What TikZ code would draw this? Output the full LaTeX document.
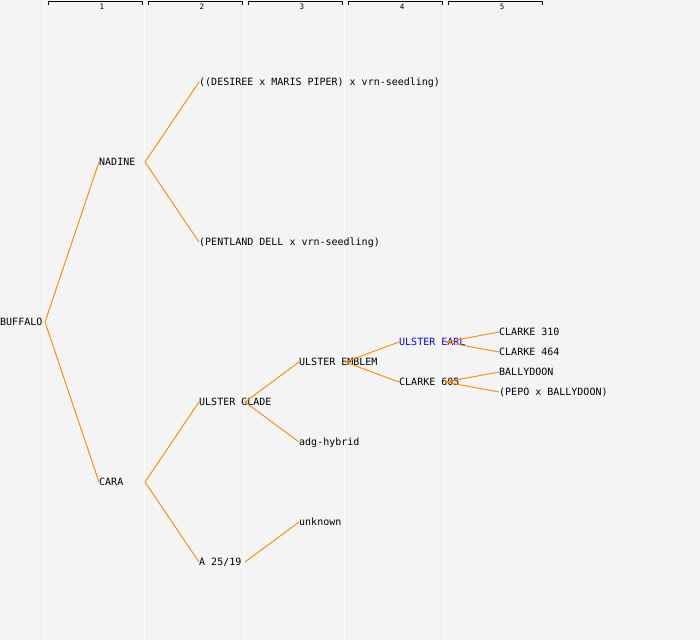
\documentclass[tikz,border=0pt]{standalone}
\usepackage{fontspec}
\setmonofont{DejaVu Sans Mono}
\usepackage{tikz}
\usetikzlibrary{positioning}
\usepackage{xcolor}
\definecolor{bgcol}{HTML}{F4F4F4}
\definecolor{linkorange}{HTML}{FF8800}

\begin{document}
\begin{tikzpicture}[x=1pt, y=-1pt,
    variety/.style={anchor=west, inner sep=0pt, text height=7.3pt, text depth=0pt,
                    font=\ttfamily\fontsize{10}{12}\selectfont},
    link/.style={draw=linkorange, line width=0.9pt},
    genline/.style={draw=white, line width=1.5pt},
    bracket/.style={draw=black, line width=0.9pt},
    genlabel/.style={inner sep=0pt, font=\ttfamily\fontsize{7.5}{7.5}\selectfont}]

    % background and generation columns
    \useasboundingbox[fill=bgcol] (0,0) rectangle (700,640);
    \draw[genline] (44.5,0) -- (44.5,640);
    \draw[genline] (144.5,0) -- (144.5,640);
    \draw[genline] (244.5,0) -- (244.5,640);
    \draw[genline] (344.5,0) -- (344.5,640);
    \draw[genline] (444.5,0) -- (444.5,640);

    % generation brackets
    \draw[bracket] (48.3,4.5) -- (48.3,1.5) -- (142.7,1.5) -- (142.7,4.5);
    \node[genlabel] (g1) at (102,6.5) {1};
    \draw[bracket] (148.3,4.5) -- (148.3,1.5) -- (242.7,1.5) -- (242.7,4.5);
    \node[genlabel] (g2) at (202,6.5) {2};
    \draw[bracket] (248.3,4.5) -- (248.3,1.5) -- (342.7,1.5) -- (342.7,4.5);
    \node[genlabel] (g3) at (302,6.5) {3};
    \draw[bracket] (348.3,4.5) -- (348.3,1.5) -- (442.7,1.5) -- (442.7,4.5);
    \node[genlabel] (g4) at (402,6.5) {4};
    \draw[bracket] (448.3,4.5) -- (448.3,1.5) -- (542.7,1.5) -- (542.7,4.5);
    \node[genlabel] (g5) at (502,6.5) {5};

    % generation 1
    \node[variety] (buffalo) at (0,322) {BUFFALO};
    \coordinate (jbuffalo) at (45,322);

    % generation 2
    \node[variety] (nadine) at (99,162) {NADINE};
    \coordinate (jnadine) at (145,162);
    \node[variety] (cara) at (99,482) {CARA};
    \coordinate (jcara) at (145,482);

    % generation 3
    \node[variety] (desiree) at (199,82) {((DESIREE x MARIS PIPER) x vrn-seedling)};
    \node[variety] (pentland) at (199,242) {(PENTLAND DELL x vrn-seedling)};
    \node[variety] (uglade) at (199,402) {ULSTER GLADE};
    \coordinate (juglade) at (245,402);
    \node[variety] (a2519) at (199,562) {A 25/19};
    \coordinate (ja2519) at (245,562);

    % generation 4
    \node[variety] (uemblem) at (299,362) {ULSTER EMBLEM};
    \coordinate (juemblem) at (345,362);
    \node[variety] (adg) at (299,442) {adg-hybrid};
    \node[variety] (unknown) at (299,522) {unknown};

    % generation 5
    \node[variety, text=blue] (uearl) at (399,342) {ULSTER EARL};
    \coordinate (juearl) at (445,342);
    \node[variety] (c605) at (399,382) {CLARKE 605};
    \coordinate (jc605) at (445,382);

    % generation 6
    \node[variety] (c310) at (499,332) {CLARKE 310};
    \node[variety] (c464) at (499,352) {CLARKE 464};
    \node[variety] (ballydoon) at (499,372) {BALLYDOON};
    \node[variety] (pepo) at (499,392) {(PEPO x BALLYDOON)};

    % parent links
    \draw[link] (jbuffalo) -- (nadine.west);
    \draw[link] (jbuffalo) -- (cara.west);
    \draw[link] (jnadine) -- (desiree.west);
    \draw[link] (jnadine) -- (pentland.west);
    \draw[link] (jcara) -- (uglade.west);
    \draw[link] (jcara) -- (a2519.west);
    \draw[link] (juglade) -- (uemblem.west);
    \draw[link] (juglade) -- (adg.west);
    \draw[link] (ja2519) -- (unknown.west);
    \draw[link] (juemblem) -- (uearl.west);
    \draw[link] (juemblem) -- (c605.west);
    \draw[link] (juearl) -- (c310.west);
    \draw[link] (juearl) -- (c464.west);
    \draw[link] (jc605) -- (ballydoon.west);
    \draw[link] (jc605) -- (pepo.west);
\end{tikzpicture}
\end{document}
